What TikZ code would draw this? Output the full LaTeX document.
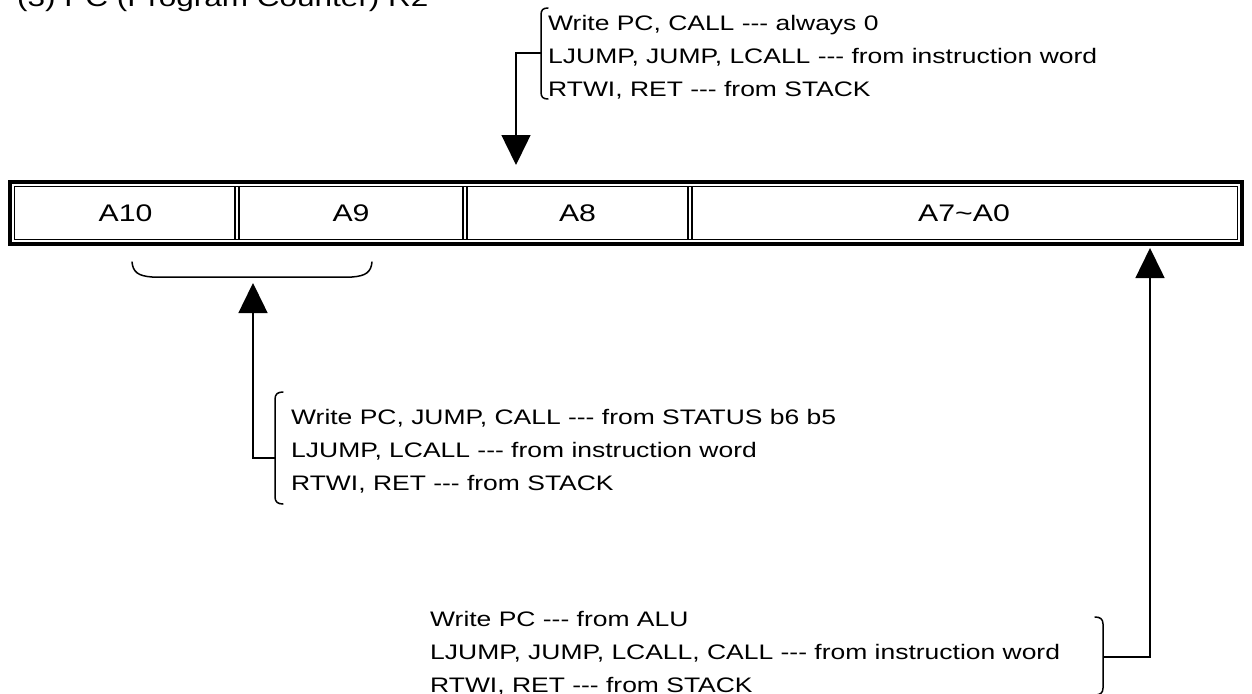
\documentclass[tikz,border=0pt]{standalone}
\usepackage{fontspec}
\setmainfont{Liberation Sans}
\newfontfamily\wf[FakeStretch=1.26]{Liberation Sans}
\usetikzlibrary{arrows.meta}
\tikzset{
  note/.style={anchor=north west, inner sep=0pt, align=left, font=\wf\fontsize{21}{33}\selectfont},
  cell/.style={inner sep=0pt, font=\wf\fontsize{24}{28}\selectfont},
  conn/.style={line width=1.5pt},
  arr/.style={line width=1.5pt, -{Triangle[length=30pt,width=29pt]}},
  brk/.style={line width=1.5pt, line cap=round},
}
\begin{document}
\begin{tikzpicture}[x=1pt,y=-1pt]
\useasboundingbox (0,0) rectangle (1252,693);
% title (cut at top as in reference)
\node[anchor=base west, inner sep=0pt, font=\wf\fontsize{25}{30}\selectfont] (title) at (17,7) {(3) PC (Program Counter) R2};
% register frame
\draw[line width=4pt] (10,182) rectangle (1242,244);
\draw[line width=1.5pt] (14.5,186.5) rectangle (1237.5,239.5);
\foreach \xx in {237,465,690}{
  \draw[line width=2.3pt] (\xx-2.2,186.5) -- (\xx-2.2,239.5);
  \draw[line width=2.3pt] (\xx+2.2,186.5) -- (\xx+2.2,239.5);
}
\node[cell] (a10) at (125.5,213) {A10};
\node[cell] (a9) at (351,213) {A9};
\node[cell] (a8) at (577.5,213) {A8};
\node[cell] (a70) at (964,213) {A7\textasciitilde A0};
% brace under A10 / A9
\draw[brk] (132,262) .. controls (133,272) and (138,276) .. (152,277) -- (352,277) .. controls (366,276) and (371,272) .. (372,262);
% top note
\node[note] (topnote) at (548,15) {Write PC, CALL --- always 0\\LJUMP, JUMP, LCALL --- from instruction word\\RTWI, RET --- from STACK};
\draw[brk] (548,8) .. controls (543,8) and (541,10) .. (541,15) -- (541,92) .. controls (541,97) and (543,99) .. (548,99);
\coordinate (tb) at (541,53);
\coordinate (tipA8) at (516,165);
\draw[arr] (tb) -| (tipA8);
% middle note
\node[note] (midnote) at (291,409) {Write PC, JUMP, CALL --- from STATUS b6 b5\\LJUMP, LCALL --- from instruction word\\RTWI, RET --- from STACK};
\draw[brk] (283,392) .. controls (278,392) and (275,394) .. (275,399) -- (275,497) .. controls (275,502) and (278,504) .. (283,504);
\coordinate (mb) at (275,458);
\coordinate (tipA9) at (253,283);
\draw[arr] (mb) -| (tipA9);
% bottom note
\node[note] (botnote) at (430,611) {Write PC --- from ALU\\LJUMP, JUMP, LCALL, CALL --- from instruction word\\RTWI, RET --- from STACK};
\draw[brk] (1095,617) .. controls (1100,617) and (1103,619) .. (1103,624) -- (1103,688) .. controls (1103,693) and (1100,695) .. (1095,695);
\coordinate (bb) at (1103,657);
\coordinate (tipA7) at (1150,248);
\draw[arr] (bb) -| (tipA7);
\end{tikzpicture}
\end{document}
